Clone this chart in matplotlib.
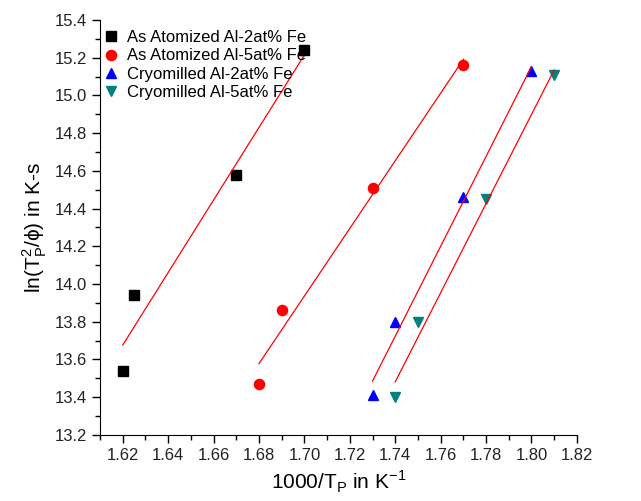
import numpy as np
import matplotlib
matplotlib.use("Agg")
import matplotlib.pyplot as plt
from matplotlib.ticker import MultipleLocator

plt.rcParams['font.family'] = ['Liberation Sans', 'DejaVu Sans']

# Data (1000/Tp, ln(Tp^2/phi))
labels = ['As Atomized Al-2at% Fe', 'As Atomized Al-5at% Fe',
          'Cryomilled Al-2at% Fe', 'Cryomilled Al-5at% Fe']
x_aa2 = [1.620, 1.625, 1.670, 1.700]
y_aa2 = [13.54, 13.94, 14.58, 15.24]
x_aa5 = [1.680, 1.690, 1.730, 1.770]
y_aa5 = [13.47, 13.86, 14.51, 15.16]
x_cm2 = [1.730, 1.740, 1.770, 1.800]
y_cm2 = [13.41, 13.80, 14.46, 15.13]
x_cm5 = [1.740, 1.750, 1.780, 1.810]
y_cm5 = [13.40, 13.80, 14.45, 15.11]

series = [(x_aa2, y_aa2), (x_aa5, y_aa5), (x_cm2, y_cm2), (x_cm5, y_cm5)]
markers = ['s', 'o', '^', 'v']
colors = ['black', '#ff0000', '#0000ff', '#008080']

fig = plt.figure(figsize=(6.41, 5.01), dpi=100)
ax = fig.add_axes([0.156, 0.132, 0.744, 0.828])

for (xs, ys), m, c, lab in zip(series, markers, colors, labels):
    ax.plot(xs, ys, linestyle='none', marker=m, color=c, markersize=7.3, label=lab)
    # linear fit drawn over the range of each series
    k, b = np.polyfit(xs, ys, 1)
    xl = np.array([min(xs), max(xs)])
    ax.plot(xl, k * xl + b, color='#ff0000', linewidth=0.9)

ax.set_xlim(1.61, 1.82)
ax.set_ylim(13.2, 15.4)
xt = np.arange(1.62, 1.8201, 0.02)
ax.set_xticks(xt)
ax.set_xticklabels([f'{v:.2f}' for v in xt])
ax.xaxis.set_minor_locator(MultipleLocator(0.01))
ax.yaxis.set_major_locator(MultipleLocator(0.2))
ax.yaxis.set_minor_locator(MultipleLocator(0.1))
ax.yaxis.set_major_formatter(matplotlib.ticker.FormatStrFormatter('%.1f'))

for s in ['top', 'right']:
    ax.spines[s].set_visible(False)
ax.tick_params(which='major', direction='out', length=6, width=1, labelsize=12, colors='black')
ax.tick_params(which='minor', direction='out', length=3.5, width=1)
for lbl in ax.get_xticklabels() + ax.get_yticklabels():
    lbl.set_color('#222222')

ax.set_xlabel('1000/T$_\\mathregular{P}$ in K$^{\\mathregular{-1}}$', fontsize=15)
ax.set_ylabel('ln(T$_\\mathregular{P}^\\mathregular{2}$/\u03d5) in K-s', fontsize=15)

ax.legend(loc='upper left', frameon=False, fontsize=12, handletextpad=0.35,
          handlelength=1.2, borderaxespad=0.2, labelspacing=0.2,
          bbox_to_anchor=(-0.018, 1.0))

fig.savefig('out.png', dpi=100)
